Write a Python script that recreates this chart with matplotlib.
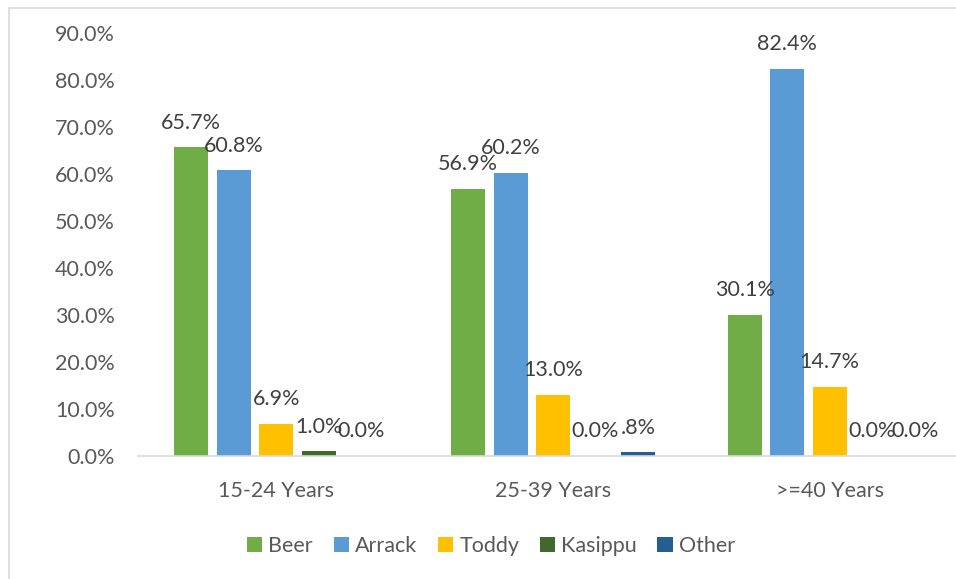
import matplotlib
matplotlib.use("Agg")
import matplotlib.pyplot as plt
import numpy as np
from matplotlib.patches import Rectangle

categories = ["15-24 Years", "25-39 Years", ">=40 Years"]
series = ["Beer", "Arrack", "Toddy", "Kasippu", "Other"]
beer = [65.7, 56.9, 30.1]
arrack = [60.8, 60.2, 82.4]
toddy = [6.9, 13.0, 14.7]
kasippu = [1.0, 0.0, 0.0]
other = [0.0, 0.8, 0.0]
labels_beer = ["65.7%", "56.9%", "30.1%"]
labels_arrack = ["60.8%", "60.2%", "82.4%"]
labels_toddy = ["6.9%", "13.0%", "14.7%"]
labels_kasippu = ["1.0%", "0.0%", "0.0%"]
labels_other = ["0.0%", ".8%", "0.0%"]
yticks = [0, 10, 20, 30, 40, 50, 60, 70, 80, 90]
ytick_labels = ["0.0%", "10.0%", "20.0%", "30.0%", "40.0%", "50.0%", "60.0%", "70.0%", "80.0%", "90.0%"]

colors = ["#70AD47", "#5B9BD5", "#FFC000", "#43682B", "#255E91"]
values = [beer, arrack, toddy, kasippu, other]
labels = [labels_beer, labels_arrack, labels_toddy, labels_kasippu, labels_other]

plt.rcParams['font.family'] = ['Lato', 'DejaVu Sans']
FS = 15.5

W, H = 956, 579
fig = plt.figure(figsize=(W / 100, H / 100), dpi=100)
fig.patch.set_facecolor("white")

# chart border
fig.patches.append(Rectangle((9 / W, -0.05), 1.1, (H - 8) / H + 0.05,
                             transform=fig.transFigure, fill=False,
                             edgecolor="#D9D9D9", linewidth=1.2))

left, right = 138 / W, 968 / W
bottom, top = (H - 456) / H, (H - 33) / H
ax = fig.add_axes([left, bottom, right - left, top - bottom])

x = np.arange(len(categories))
slot = 42.5 / 276.7
bw = 34 / 276.7
for i, (vals, lab, c, name) in enumerate(zip(values, labels, colors, series)):
    xs = x + (i - 2) * slot
    ax.bar(xs, vals, width=bw, color=c, label=name, zorder=2)
    for xi, v, t in zip(xs, vals, lab):
        ax.annotate(t, (xi, v), xytext=(0, 10.5), textcoords="offset points",
                    ha="center", va="bottom", fontsize=FS, color="#404040")

ax.set_xlim(-0.5, 2.5)
ax.set_ylim(0, 90)
ax.set_yticks(yticks)
ax.set_yticklabels(ytick_labels)
ax.set_xticks(x)
ax.set_xticklabels(categories)
ax.tick_params(axis="y", length=0, pad=16.5, labelsize=FS, labelcolor="#595959")
ax.tick_params(axis="x", length=0, pad=18, labelsize=FS, labelcolor="#595959")
for s in ["left", "right", "top"]:
    ax.spines[s].set_visible(False)
ax.spines["bottom"].set_color("#D9D9D9")
ax.spines["bottom"].set_linewidth(1.2)

leg = fig.legend(loc="center", bbox_to_anchor=(491 / W, (H - 546) / H), ncol=5,
                 frameon=False, fontsize=FS, handlelength=0.7, handleheight=0.7,
                 handletextpad=0.3, columnspacing=0.95)
for t in leg.get_texts():
    t.set_color("#595959")

fig.savefig("out.png", dpi=100)
